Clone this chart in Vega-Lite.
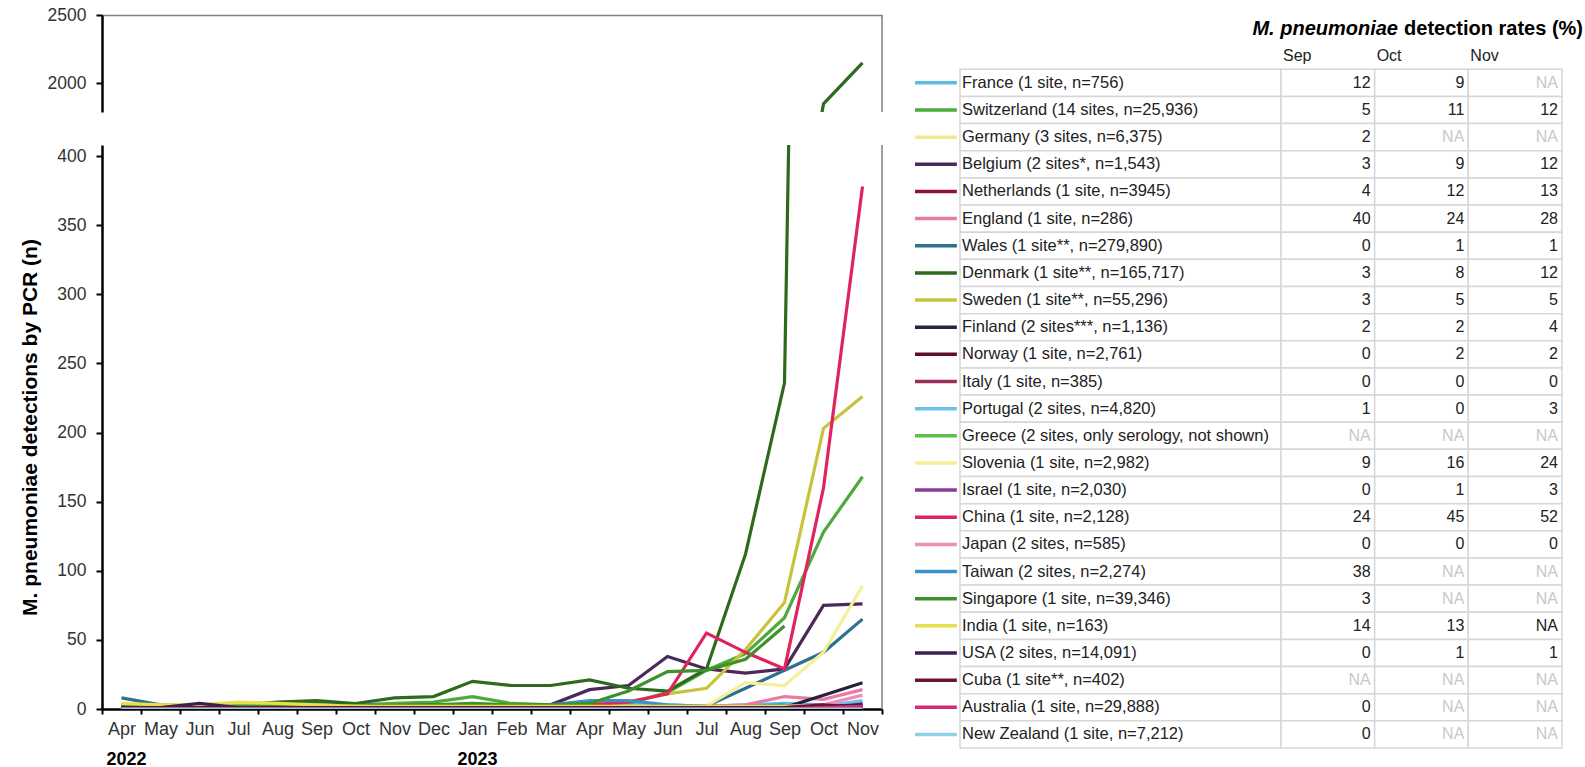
{
  "$schema": "https://vega.github.io/schema/vega-lite/v6.json",
  "background": "white",
  "padding": {"left": 19, "top": 6, "right": 0, "bottom": 0},
  "config": {"font": "Liberation Sans", "view": {"stroke": null}},
  "datasets": {
    "series": [
      {"k":"France","2022-04":3,"2022-05":2,"2022-06":1,"2022-07":1,"2022-08":2,"2022-09":3,"2022-10":2,"2022-11":2,"2022-12":1,"2023-01":2,"2023-02":2,"2023-03":3,"2023-04":5,"2023-05":4,"2023-06":3,"2023-07":2,"2023-08":3,"2023-09":4,"2023-10":3,"2023-11":null},
      {"k":"Switzerland","2022-04":2,"2022-05":2,"2022-06":2,"2022-07":2,"2022-08":3,"2022-09":3,"2022-10":3,"2022-11":4,"2022-12":5,"2023-01":9,"2023-02":4,"2023-03":3,"2023-04":3,"2023-05":4,"2023-06":12,"2023-07":28,"2023-08":40,"2023-09":66,"2023-10":128,"2023-11":168},
      {"k":"Germany","2022-04":3,"2022-05":3,"2022-06":3,"2022-07":4,"2022-08":4,"2022-09":3,"2022-10":3,"2022-11":3,"2022-12":2,"2023-01":2,"2023-02":2,"2023-03":2,"2023-04":2,"2023-05":2,"2023-06":2,"2023-07":2,"2023-08":2,"2023-09":2,"2023-10":null,"2023-11":null},
      {"k":"Belgium","2022-04":2,"2022-05":2,"2022-06":1,"2022-07":1,"2022-08":2,"2022-09":2,"2022-10":2,"2022-11":2,"2022-12":3,"2023-01":3,"2023-02":2,"2023-03":3,"2023-04":14,"2023-05":17,"2023-06":38,"2023-07":29,"2023-08":26,"2023-09":29,"2023-10":75,"2023-11":76},
      {"k":"Netherlands","2022-04":1,"2022-05":1,"2022-06":1,"2022-07":1,"2022-08":1,"2022-09":1,"2022-10":1,"2022-11":1,"2022-12":1,"2023-01":1,"2023-02":1,"2023-03":1,"2023-04":1,"2023-05":1,"2023-06":1,"2023-07":1,"2023-08":1,"2023-09":2,"2023-10":3,"2023-11":4},
      {"k":"England","2022-04":1,"2022-05":1,"2022-06":1,"2022-07":1,"2022-08":1,"2022-09":1,"2022-10":1,"2022-11":1,"2022-12":1,"2023-01":1,"2023-02":1,"2023-03":1,"2023-04":1,"2023-05":1,"2023-06":2,"2023-07":2,"2023-08":3,"2023-09":9,"2023-10":7,"2023-11":14},
      {"k":"Wales","2022-04":8,"2022-05":3,"2022-06":2,"2022-07":2,"2022-08":3,"2022-09":4,"2022-10":3,"2022-11":3,"2022-12":2,"2023-01":3,"2023-02":2,"2023-03":2,"2023-04":3,"2023-05":2,"2023-06":2,"2023-07":2,"2023-08":15,"2023-09":28,"2023-10":41,"2023-11":65},
      {"k":"Denmark","2022-04":3,"2022-05":2,"2022-06":2,"2022-07":3,"2022-08":5,"2022-09":6,"2022-10":4,"2022-11":8,"2022-12":9,"2023-01":20,"2023-02":17,"2023-03":17,"2023-04":21,"2023-05":15,"2023-06":13,"2023-07":29,"2023-08":112,"2023-09":236,"2023-10":1850,"2023-11":2150},
      {"k":"Sweden","2022-04":3,"2022-05":2,"2022-06":2,"2022-07":4,"2022-08":3,"2022-09":3,"2022-10":2,"2022-11":3,"2022-12":2,"2023-01":3,"2023-02":3,"2023-03":2,"2023-04":3,"2023-05":5,"2023-06":11,"2023-07":15,"2023-08":43,"2023-09":77,"2023-10":203,"2023-11":226},
      {"k":"Finland","2022-04":1,"2022-05":1,"2022-06":1,"2022-07":1,"2022-08":1,"2022-09":1,"2022-10":1,"2022-11":1,"2022-12":1,"2023-01":1,"2023-02":1,"2023-03":1,"2023-04":1,"2023-05":1,"2023-06":1,"2023-07":1,"2023-08":1,"2023-09":1,"2023-10":10,"2023-11":19},
      {"k":"Norway","2022-04":0,"2022-05":0,"2022-06":0,"2022-07":0,"2022-08":0,"2022-09":0,"2022-10":0,"2022-11":0,"2022-12":0,"2023-01":0,"2023-02":0,"2023-03":0,"2023-04":0,"2023-05":0,"2023-06":0,"2023-07":0,"2023-08":0,"2023-09":0,"2023-10":1,"2023-11":1},
      {"k":"Italy","2022-04":0,"2022-05":0,"2022-06":0,"2022-07":0,"2022-08":0,"2022-09":0,"2022-10":0,"2022-11":0,"2022-12":0,"2023-01":0,"2023-02":0,"2023-03":0,"2023-04":0,"2023-05":0,"2023-06":0,"2023-07":0,"2023-08":0,"2023-09":0,"2023-10":0,"2023-11":0},
      {"k":"Portugal","2022-04":1,"2022-05":1,"2022-06":1,"2022-07":1,"2022-08":1,"2022-09":1,"2022-10":1,"2022-11":1,"2022-12":1,"2023-01":1,"2023-02":1,"2023-03":1,"2023-04":2,"2023-05":2,"2023-06":1,"2023-07":1,"2023-08":1,"2023-09":2,"2023-10":2,"2023-11":6},
      {"k":"Slovenia","2022-04":2,"2022-05":2,"2022-06":2,"2022-07":2,"2022-08":2,"2022-09":2,"2022-10":2,"2022-11":2,"2022-12":2,"2023-01":2,"2023-02":2,"2023-03":2,"2023-04":2,"2023-05":2,"2023-06":2,"2023-07":2,"2023-08":19,"2023-09":17,"2023-10":41,"2023-11":89},
      {"k":"Israel","2022-04":0,"2022-05":0,"2022-06":0,"2022-07":0,"2022-08":0,"2022-09":0,"2022-10":0,"2022-11":0,"2022-12":0,"2023-01":0,"2023-02":0,"2023-03":0,"2023-04":0,"2023-05":0,"2023-06":0,"2023-07":0,"2023-08":0,"2023-09":0,"2023-10":1,"2023-11":2},
      {"k":"China","2022-04":1,"2022-05":1,"2022-06":1,"2022-07":1,"2022-08":1,"2022-09":1,"2022-10":1,"2022-11":1,"2022-12":1,"2023-01":1,"2023-02":1,"2023-03":2,"2023-04":3,"2023-05":5,"2023-06":11,"2023-07":55,"2023-08":41,"2023-09":29,"2023-10":160,"2023-11":378},
      {"k":"Japan","2022-04":0,"2022-05":0,"2022-06":0,"2022-07":0,"2022-08":0,"2022-09":0,"2022-10":0,"2022-11":0,"2022-12":0,"2023-01":0,"2023-02":0,"2023-03":0,"2023-04":0,"2023-05":0,"2023-06":0,"2023-07":0,"2023-08":1,"2023-09":2,"2023-10":3,"2023-11":10},
      {"k":"Taiwan","2022-04":3,"2022-05":2,"2022-06":2,"2022-07":2,"2022-08":2,"2022-09":2,"2022-10":2,"2022-11":2,"2022-12":2,"2023-01":2,"2023-02":2,"2023-03":3,"2023-04":6,"2023-05":6,"2023-06":3,"2023-07":2,"2023-08":2,"2023-09":3,"2023-10":null,"2023-11":null},
      {"k":"Singapore","2022-04":2,"2022-05":2,"2022-06":2,"2022-07":2,"2022-08":2,"2022-09":3,"2022-10":2,"2022-11":3,"2022-12":3,"2023-01":4,"2023-02":3,"2023-03":3,"2023-04":4,"2023-05":13,"2023-06":27,"2023-07":28,"2023-08":36,"2023-09":60,"2023-10":null,"2023-11":null},
      {"k":"India","2022-04":4,"2022-05":3,"2022-06":3,"2022-07":5,"2022-08":4,"2022-09":3,"2022-10":2,"2022-11":2,"2022-12":2,"2023-01":2,"2023-02":2,"2023-03":2,"2023-04":2,"2023-05":2,"2023-06":2,"2023-07":2,"2023-08":2,"2023-09":2,"2023-10":2,"2023-11":null},
      {"k":"USA","2022-04":1,"2022-05":1,"2022-06":4,"2022-07":1,"2022-08":1,"2022-09":1,"2022-10":1,"2022-11":1,"2022-12":1,"2023-01":1,"2023-02":1,"2023-03":1,"2023-04":1,"2023-05":1,"2023-06":1,"2023-07":1,"2023-08":1,"2023-09":1,"2023-10":2,"2023-11":3},
      {"k":"Cuba","2022-04":1,"2022-05":1,"2022-06":1,"2022-07":1,"2022-08":1,"2022-09":1,"2022-10":1,"2022-11":1,"2022-12":1,"2023-01":1,"2023-02":1,"2023-03":1,"2023-04":1,"2023-05":1,"2023-06":1,"2023-07":1,"2023-08":1,"2023-09":1,"2023-10":3,"2023-11":1},
      {"k":"Australia","2022-04":0,"2022-05":0,"2022-06":0,"2022-07":0,"2022-08":0,"2022-09":0,"2022-10":0,"2022-11":0,"2022-12":0,"2023-01":0,"2023-02":0,"2023-03":0,"2023-04":0,"2023-05":0,"2023-06":0,"2023-07":0,"2023-08":0,"2023-09":0,"2023-10":1,"2023-11":2},
      {"k":"New Zealand","2022-04":0,"2022-05":0,"2022-06":0,"2022-07":0,"2022-08":0,"2022-09":0,"2022-10":0,"2022-11":0,"2022-12":0,"2023-01":0,"2023-02":0,"2023-03":0,"2023-04":0,"2023-05":0,"2023-06":0,"2023-07":0,"2023-08":0,"2023-09":0,"2023-10":0,"2023-11":0}
    ],
    "table": [
      {"k":"France","lab":"France (1 site, n=756)","Sep":"12","Oct":"9","Nov":"NA"},
      {"k":"Switzerland","lab":"Switzerland (14 sites, n=25,936)","Sep":"5","Oct":"11","Nov":"12"},
      {"k":"Germany","lab":"Germany (3 sites, n=6,375)","Sep":"2","Oct":"NA","Nov":"NA"},
      {"k":"Belgium","lab":"Belgium (2 sites*, n=1,543)","Sep":"3","Oct":"9","Nov":"12"},
      {"k":"Netherlands","lab":"Netherlands (1 site, n=3945)","Sep":"4","Oct":"12","Nov":"13"},
      {"k":"England","lab":"England (1 site, n=286)","Sep":"40","Oct":"24","Nov":"28"},
      {"k":"Wales","lab":"Wales (1 site**, n=279,890)","Sep":"0","Oct":"1","Nov":"1"},
      {"k":"Denmark","lab":"Denmark (1 site**, n=165,717)","Sep":"3","Oct":"8","Nov":"12"},
      {"k":"Sweden","lab":"Sweden (1 site**, n=55,296)","Sep":"3","Oct":"5","Nov":"5"},
      {"k":"Finland","lab":"Finland (2 sites***, n=1,136)","Sep":"2","Oct":"2","Nov":"4"},
      {"k":"Norway","lab":"Norway (1 site, n=2,761)","Sep":"0","Oct":"2","Nov":"2"},
      {"k":"Italy","lab":"Italy (1 site, n=385)","Sep":"0","Oct":"0","Nov":"0"},
      {"k":"Portugal","lab":"Portugal (2 sites, n=4,820)","Sep":"1","Oct":"0","Nov":"3"},
      {"k":"Greece","lab":"Greece (2 sites, only serology, not shown)","Sep":"NA","Oct":"NA","Nov":"NA"},
      {"k":"Slovenia","lab":"Slovenia (1 site, n=2,982)","Sep":"9","Oct":"16","Nov":"24"},
      {"k":"Israel","lab":"Israel (1 site, n=2,030)","Sep":"0","Oct":"1","Nov":"3"},
      {"k":"China","lab":"China (1 site, n=2,128)","Sep":"24","Oct":"45","Nov":"52"},
      {"k":"Japan","lab":"Japan (2 sites, n=585)","Sep":"0","Oct":"0","Nov":"0"},
      {"k":"Taiwan","lab":"Taiwan (2 sites, n=2,274)","Sep":"38","Oct":"NA","Nov":"NA"},
      {"k":"Singapore","lab":"Singapore (1 site, n=39,346)","Sep":"3","Oct":"NA","Nov":"NA"},
      {"k":"India","lab":"India (1 site, n=163)","Sep":"14","Oct":"13","Nov":"NA"},
      {"k":"USA","lab":"USA (2 sites, n=14,091)","Sep":"0","Oct":"1","Nov":"1"},
      {"k":"Cuba","lab":"Cuba (1 site**, n=402)","Sep":"NA","Oct":"NA","Nov":"NA"},
      {"k":"Australia","lab":"Australia (1 site, n=29,888)","Sep":"0","Oct":"NA","Nov":"NA"},
      {"k":"New Zealand","lab":"New Zealand (1 site, n=7,212)","Sep":"0","Oct":"NA","Nov":"NA"}
    ],
    "years": [{"m":"2022-04","t":"2022"},{"m":"2023-01","t":"2023"}]
  },
  "spacing": 30,
  "resolve": {"scale": {"x": "independent", "y": "independent"}},
  "hconcat": [
    {
      "spacing": 31,
      "resolve": {"scale": {"y": "independent"}},
      "vconcat": [
        {
          "width": 780,
          "height": 97,
          "layer": [
            {
              "data": {"name": "series"},
              "transform": [{"fold": ["2022-04","2022-05","2022-06","2022-07","2022-08","2022-09","2022-10","2022-11","2022-12","2023-01","2023-02","2023-03","2023-04","2023-05","2023-06","2023-07","2023-08","2023-09","2023-10","2023-11"], "as": ["m","v"]}],
              "mark": {"type": "line", "strokeWidth": 3.2, "clip": true},
              "encoding": {
                "x": {"field": "m", "type": "ordinal", "bandPosition": 0.5,
                      "scale": {"type": "band", "paddingInner": 0, "paddingOuter": 0, "domain": ["2022-04","2022-05","2022-06","2022-07","2022-08","2022-09","2022-10","2022-11","2022-12","2023-01","2023-02","2023-03","2023-04","2023-05","2023-06","2023-07","2023-08","2023-09","2023-10","2023-11"]},
                      "axis": {"orient": "top", "labels": false, "ticks": false, "domainColor": "#808080", "domainWidth": 1.5, "title": null, "grid": false}},
                "y": {"field": "v", "type": "quantitative",
                      "scale": {"domain": [1790, 2500], "nice": false, "zero": false},
                      "axis": {"values": [2000, 2500], "format": "d", "domainColor": "black", "domainWidth": 2.5, "tickColor": "black", "tickWidth": 2, "tickSize": 6, "labelFontSize": 17.5, "labelColor": "#333", "labelPadding": 10, "minExtent": 56, "maxExtent": 56, "title": null, "grid": false}},
                "color": {"field": "k", "type": "nominal", "legend": null,
                          "scale": {"domain": ["France","Switzerland","Germany","Belgium","Netherlands","England","Wales","Denmark","Sweden","Finland","Norway","Italy","Portugal","Greece","Slovenia","Israel","China","Japan","Taiwan","Singapore","India","USA","Cuba","Australia","New Zealand"],
                                    "range": ["#5bbde4","#4daa3c","#f2ea8a","#4a2a5a","#8b1538","#e87aa8","#2f6f8f","#2d6a1e","#c9c23c","#2a1f3d","#5c1028","#9c2a5a","#6ec0e8","#5cc04a","#f5ef9a","#8a3a9a","#e0245e","#ee8fb8","#3a93c8","#3f8f2a","#e8e04a","#3a2050","#6a1530","#d42a7a","#8fd0e8"]}}
              }
            },
            {
              "data": {"values": [{}]},
              "mark": {"type": "rule", "color": "#808080", "strokeWidth": 1.5},
              "encoding": {"x": {"datum": "2023-11", "type": "ordinal", "bandPosition": 1}}
            }
          ]
        },
        {
          "width": 780,
          "height": 564,
          "layer": [
            {
              "data": {"name": "series"},
              "transform": [{"fold": ["2022-04","2022-05","2022-06","2022-07","2022-08","2022-09","2022-10","2022-11","2022-12","2023-01","2023-02","2023-03","2023-04","2023-05","2023-06","2023-07","2023-08","2023-09","2023-10","2023-11"], "as": ["m","v"]}],
              "mark": {"type": "line", "strokeWidth": 3.2, "clip": true},
              "encoding": {
                "x": {"field": "m", "type": "ordinal", "bandPosition": 0.5,
                      "scale": {"type": "band", "paddingInner": 0, "paddingOuter": 0, "domain": ["2022-04","2022-05","2022-06","2022-07","2022-08","2022-09","2022-10","2022-11","2022-12","2023-01","2023-02","2023-03","2023-04","2023-05","2023-06","2023-07","2023-08","2023-09","2023-10","2023-11"]},
                      "axis": {"labelExpr": "['Jan','Feb','Mar','Apr','May','Jun','Jul','Aug','Sep','Oct','Nov','Dec'][toNumber(substring(datum.value, 5, 7)) - 1]", "tickBand": "extent", "domainColor": "black", "domainWidth": 2.5, "tickColor": "black", "tickWidth": 2, "tickSize": 5, "labelFontSize": 18, "labelColor": "#333", "labelPadding": 6, "labelAngle": 0, "title": null, "grid": false}},
                "y": {"field": "v", "type": "quantitative",
                      "scale": {"domain": [0, 408], "nice": false, "zero": false},
                      "axis": {"values": [0, 50, 100, 150, 200, 250, 300, 350, 400], "format": "d", "domainColor": "black", "domainWidth": 2.5, "tickColor": "black", "tickWidth": 2, "tickSize": 6, "labelFontSize": 17.5, "labelColor": "#333", "labelPadding": 10, "minExtent": 56, "maxExtent": 56, "grid": false,
                               "title": "M. pneumoniae detections by PCR (n)", "titleFontSize": 21, "titleFontWeight": "bold", "titleColor": "black", "titlePadding": 6}},
                "color": {"field": "k", "type": "nominal", "legend": null,
                          "scale": {"domain": ["France","Switzerland","Germany","Belgium","Netherlands","England","Wales","Denmark","Sweden","Finland","Norway","Italy","Portugal","Greece","Slovenia","Israel","China","Japan","Taiwan","Singapore","India","USA","Cuba","Australia","New Zealand"],
                                    "range": ["#5bbde4","#4daa3c","#f2ea8a","#4a2a5a","#8b1538","#e87aa8","#2f6f8f","#2d6a1e","#c9c23c","#2a1f3d","#5c1028","#9c2a5a","#6ec0e8","#5cc04a","#f5ef9a","#8a3a9a","#e0245e","#ee8fb8","#3a93c8","#3f8f2a","#e8e04a","#3a2050","#6a1530","#d42a7a","#8fd0e8"]}}
              }
            },
            {
              "data": {"values": [{}]},
              "mark": {"type": "rule", "color": "#808080", "strokeWidth": 1.5},
              "encoding": {"x": {"datum": "2023-11", "type": "ordinal", "bandPosition": 1}}
            },
            {
              "data": {"name": "years"},
              "mark": {"type": "text", "align": "left", "baseline": "middle", "dx": -15, "dy": 51, "fontSize": 18, "fontWeight": "bold", "color": "black"},
              "encoding": {
                "x": {"field": "m", "type": "ordinal", "bandPosition": 0.5},
                "y": {"datum": 0, "type": "quantitative"},
                "text": {"field": "t"}
              }
            }
          ]
        }
      ]
    },
    {
      "spacing": 0,
      "bounds": "flush",
      "resolve": {"scale": {"x": "independent"}},
      "hconcat": [
        {
          "width": 45,
          "height": 733,
          "data": {"name": "table"},
          "mark": {"type": "rule", "strokeWidth": 3.5},
          "encoding": {
            "x": {"datum": 0, "type": "quantitative", "scale": {"domain": [0, 1]}, "axis": null},
            "x2": {"datum": 0.93},
            "y": {"field": "k", "type": "nominal", "bandPosition": 0.5, "axis": null,
                  "scale": {"type": "band", "paddingInner": 0, "paddingOuter": 0, "domain": ["_t","_h","France","Switzerland","Germany","Belgium","Netherlands","England","Wales","Denmark","Sweden","Finland","Norway","Italy","Portugal","Greece","Slovenia","Israel","China","Japan","Taiwan","Singapore","India","USA","Cuba","Australia","New Zealand"]}},
            "color": {"field": "k", "type": "nominal", "legend": null,
                      "scale": {"domain": ["France","Switzerland","Germany","Belgium","Netherlands","England","Wales","Denmark","Sweden","Finland","Norway","Italy","Portugal","Greece","Slovenia","Israel","China","Japan","Taiwan","Singapore","India","USA","Cuba","Australia","New Zealand"],
                                "range": ["#5bbde4","#4daa3c","#f2ea8a","#4a2a5a","#8b1538","#e87aa8","#2f6f8f","#2d6a1e","#c9c23c","#2a1f3d","#5c1028","#9c2a5a","#6ec0e8","#5cc04a","#f5ef9a","#8a3a9a","#e0245e","#ee8fb8","#3a93c8","#3f8f2a","#e8e04a","#3a2050","#6a1530","#d42a7a","#8fd0e8"]}}
          }
        },
        {
          "width": 321,
          "height": 733,
          "data": {"name": "table"},
          "layer": [
            {
              "mark": {"type": "rect", "fill": "white", "stroke": "#d6d6d6", "strokeWidth": 1.5},
              "encoding": {
                "x": {"datum": 0, "type": "quantitative", "scale": {"domain": [0, 1]}, "axis": null},
                "x2": {"datum": 1},
                "y": {"field": "k", "type": "nominal", "axis": null,
                      "scale": {"type": "band", "paddingInner": 0, "paddingOuter": 0, "domain": ["_t","_h","France","Switzerland","Germany","Belgium","Netherlands","England","Wales","Denmark","Sweden","Finland","Norway","Italy","Portugal","Greece","Slovenia","Israel","China","Japan","Taiwan","Singapore","India","USA","Cuba","Australia","New Zealand"]}}
              }
            },
            {
              "mark": {"type": "text", "align": "left", "baseline": "middle", "dx": 2, "fontSize": 16.5, "color": "#222"},
              "encoding": {
                "x": {"datum": 0, "type": "quantitative"},
                "y": {"field": "k", "type": "nominal", "bandPosition": 0.5},
                "text": {"field": "lab"}
              }
            }
          ]
        },
        {
          "width": 281,
          "height": 733,
          "layer": [
            {
              "data": {"name": "table"},
              "transform": [{"fold": ["Sep","Oct","Nov"], "as": ["col","val"]}],
              "mark": {"type": "rect", "fill": "white", "stroke": "#d6d6d6", "strokeWidth": 1.5},
              "encoding": {
                "x": {"field": "col", "type": "nominal", "axis": null,
                      "scale": {"type": "band", "paddingInner": 0, "paddingOuter": 0, "domain": ["Sep","Oct","Nov"]}},
                "y": {"field": "k", "type": "nominal", "axis": null,
                      "scale": {"type": "band", "paddingInner": 0, "paddingOuter": 0, "domain": ["_t","_h","France","Switzerland","Germany","Belgium","Netherlands","England","Wales","Denmark","Sweden","Finland","Norway","Italy","Portugal","Greece","Slovenia","Israel","China","Japan","Taiwan","Singapore","India","USA","Cuba","Australia","New Zealand"]}}
              }
            },
            {
              "data": {"name": "table"},
              "transform": [{"fold": ["Sep","Oct","Nov"], "as": ["col","val"]}],
              "mark": {"type": "text", "align": "right", "baseline": "middle", "dx": -4, "fontSize": 16},
              "encoding": {
                "x": {"field": "col", "type": "nominal", "bandPosition": 1},
                "y": {"field": "k", "type": "nominal", "bandPosition": 0.5},
                "text": {"field": "val"},
                "color": {"condition": {"test": "datum.val === 'NA' && datum.k !== 'India'", "value": "#c8c8c8"}, "value": "#222"}
              }
            },
            {
              "data": {"values": [{"col": "Sep"}, {"col": "Oct"}, {"col": "Nov"}]},
              "mark": {"type": "text", "align": "left", "baseline": "middle", "dx": 2, "fontSize": 16, "color": "#222"},
              "encoding": {
                "x": {"field": "col", "type": "nominal", "bandPosition": 0},
                "y": {"datum": "_h", "type": "nominal", "bandPosition": 0.5},
                "text": {"field": "col"}
              }
            },
            {
              "data": {"values": [{}]},
              "mark": {"type": "text", "align": "right", "baseline": "middle", "dx": 21, "fontSize": 20, "fontWeight": "bold", "color": "black", "text": "detection rates (%)"},
              "encoding": {
                "x": {"datum": "Nov", "type": "nominal", "bandPosition": 1},
                "y": {"datum": "_t", "type": "nominal", "bandPosition": 0.5}
              }
            },
            {
              "data": {"values": [{}]},
              "mark": {"type": "text", "align": "right", "baseline": "middle", "dx": -164, "fontSize": 20, "fontWeight": "bold", "fontStyle": "italic", "color": "black", "text": "M. pneumoniae"},
              "encoding": {
                "x": {"datum": "Nov", "type": "nominal", "bandPosition": 1},
                "y": {"datum": "_t", "type": "nominal", "bandPosition": 0.5}
              }
            }
          ]
        }
      ]
    }
  ]
}
